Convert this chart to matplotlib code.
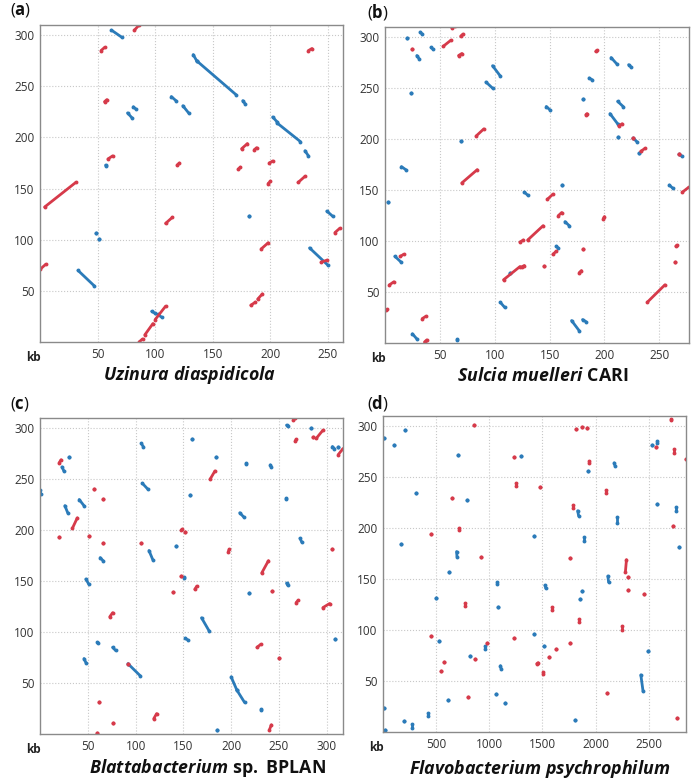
import matplotlib
matplotlib.use("Agg")
import matplotlib.pyplot as plt

plt.rcParams.update({
    "font.family": "Open Sans",
    "font.size": 8.5,
    "mathtext.fontset": "custom",
    "mathtext.rm": "Open Sans",
    "mathtext.bf": "Open Sans:bold",
    "mathtext.it": "Open Sans:italic",
    "mathtext.bfit": "Open Sans:bold:italic",
})

BLUE = "#2b7bb9"
RED = "#d63a4a"

# segments (x0, y0, x1, y1) in kb; single dots have identical ends
a_blue = [(62, 305, 71, 298), (133, 281, 136, 275), (136, 275, 170, 242),
          (176, 236, 178, 233), (114, 240, 118, 236), (124, 231, 129, 224),
          (76, 224, 80, 219), (81, 230, 83, 228), (202, 220, 206, 215),
          (206, 214, 226, 196), (230, 187, 233, 182), (57, 173, 57.5, 172),
          (181.6, 123, 181.6, 123), (249, 128, 254, 123), (49, 107, 49, 107),
          (51, 101, 51, 101), (234, 92, 250, 75), (33, 70, 47, 55),
          (97, 30, 100, 28), (102, 27, 106, 24)]
a_red = [(82, 305, 86, 310), (53, 285, 56, 288), (56, 235, 58, 237),
         (59, 179, 63, 182), (4, 132, 31, 156), (0, 71, 5, 76),
         (109, 116, 115, 122), (119, 173, 121, 175), (172, 169, 174, 171),
         (175, 189, 180, 194), (186, 188, 188, 190), (199, 175, 202, 177),
         (198, 155, 200, 157), (224, 156, 230, 162), (233, 285, 236, 287),
         (256, 107, 260, 111), (192, 91, 198, 97), (183, 36, 187, 39),
         (189, 42, 193, 47), (244, 78, 249, 80), (86, 0, 89, 3),
         (91, 7, 98, 18), (100, 22, 109, 35)]

b_blue = [(20, 299, 20, 299), (32, 305, 34, 303), (29, 282, 31, 279),
          (42, 290, 44, 288), (24, 245, 24, 245), (98, 272, 105, 262),
          (92, 256, 98, 250), (147, 232, 150, 229), (15, 173, 19, 170),
          (3, 138, 3, 138), (9, 85, 15, 79), (69, 198, 69, 198),
          (127, 148, 130, 145), (161, 155, 161, 155), (164, 119, 168, 115),
          (156, 95, 158, 93), (114, 69, 114, 69), (105, 40, 109, 35),
          (25, 9, 29, 4), (66, 4, 66, 3), (170, 22, 177, 12),
          (180, 23, 183, 21), (180, 239, 180, 239), (186, 260, 189, 258),
          (206, 280, 211, 274), (222, 273, 224, 271), (212, 237, 217, 232),
          (205, 225, 212, 215), (212, 202, 212, 202), (226, 201, 230, 197),
          (231, 186, 231, 186), (259, 155, 262, 152), (268, 185, 271, 183)]
b_red = [(61, 309, 64, 311), (53, 291, 60, 297), (69, 301, 71, 303),
         (67, 282, 70, 284), (25, 288, 25, 288), (83, 203, 90, 210),
         (70, 157, 84, 170), (14, 85, 17, 87), (4, 57, 8, 60),
         (1, 32, 2, 33), (34, 24, 37, 26), (36, 1, 38, 3),
         (108, 62, 123, 75), (123, 99, 126, 101), (130, 101, 144, 115),
         (125, 75, 127, 76), (144.5, 76, 144.5, 76), (148, 141, 153, 146),
         (153, 87, 156, 90), (158, 125, 161, 128), (177, 69, 179, 71),
         (180, 92, 180, 92), (199, 122, 200, 124), (192, 286, 193, 287),
         (183, 224, 184, 225), (213, 213, 216, 215), (226, 201, 226, 201),
         (233, 188, 237, 191), (268, 185, 268, 185), (271, 148, 277, 153),
         (265, 95, 266, 96), (264, 79, 264, 79), (239, 40, 255, 57)]

c_blue = [(0, 239, 1, 235), (23, 262, 25, 258), (30, 272, 30, 272),
          (26, 224, 29, 217), (41, 230, 46, 224), (48, 152, 51, 147),
          (63, 173, 66, 170), (46, 74, 48, 70), (60, 90, 61, 89),
          (76, 85, 79, 82), (92, 69, 105, 57), (106, 285, 108, 282),
          (107, 246, 113, 240), (114, 180, 118, 171), (142, 184, 142, 184),
          (151, 154, 151, 153), (152, 94, 155, 92), (157, 234, 157, 234),
          (159, 289, 159, 289), (169, 114, 177, 101), (184, 272, 184, 272),
          (185, 4, 185, 4), (200, 56, 206, 43), (206, 43, 214, 31),
          (215, 266, 215, 265), (219, 138, 219, 138), (209, 217, 213, 213),
          (231, 25, 231, 24), (241, 264, 242, 262), (257, 232, 257, 231),
          (258, 303, 259, 302), (258, 148, 259, 146), (272, 192, 274, 188),
          (284, 300, 284, 300), (306, 282, 308, 280), (312, 282, 312, 282),
          (309, 93, 309, 93)]
c_red = [(20, 266, 22, 269), (20, 193, 20, 193), (34, 202, 39, 212),
         (56, 240, 56, 240), (51, 194, 51, 194), (66, 231, 66, 231),
         (66, 187, 66, 187), (73, 115, 76, 119), (92, 69, 92, 69),
         (62, 31, 62, 31), (76, 11, 76, 11), (60, 1, 60, 1),
         (119, 15, 122, 20), (106, 187, 106, 187), (139, 139, 139, 139),
         (147, 155, 147, 155), (148, 200, 149, 201), (152, 198, 152, 198),
         (162, 142, 164, 145), (178, 250, 183, 258), (197, 179, 198, 181),
         (232, 158, 239, 170), (243, 140, 243, 140), (227, 85, 231, 88),
         (250, 75, 250, 75), (240, 4, 242, 9), (268, 129, 270, 131),
         (267, 287, 268, 289), (265, 308, 267, 310), (289, 290, 296, 298),
         (286, 291, 286, 291), (296, 124, 303, 128), (305, 181, 305, 181),
         (312, 274, 317, 280)]

d_blue = [(14, 288, 14, 288), (108, 282, 108, 282), (211, 296, 211, 296),
          (708, 272, 708, 272), (314, 234, 314, 234), (790, 228, 790, 228),
          (1302, 271, 1302, 271), (1421, 192, 1421, 192), (167, 184, 167, 184),
          (692, 177, 696, 172), (617, 157, 617, 157), (1071, 147, 1071, 145),
          (495, 131, 495, 131), (1077, 123, 1077, 123), (1421, 96, 1421, 96),
          (527, 89, 527, 89), (955, 84, 955, 81), (821, 75, 821, 75),
          (1105, 65, 1111, 62), (8, 24, 8, 24), (608, 31, 608, 31),
          (1064, 37, 1064, 37), (1149, 28, 1149, 28), (424, 19, 424, 16),
          (195, 11, 195, 11), (274, 8, 274, 4), (20, 2, 20, 2),
          (2581, 285, 2581, 284), (2534, 282, 2534, 282), (1930, 256, 1930, 256),
          (2174, 264, 2183, 261), (1831, 217, 1840, 212), (2202, 211, 2202, 205),
          (2575, 224, 2575, 224), (2759, 221, 2759, 217), (1893, 191, 1893, 187),
          (2788, 181, 2788, 181), (2115, 153, 2122, 147), (1524, 144, 1531, 141),
          (1874, 138, 1874, 138), (1855, 130, 1855, 130), (1518, 84, 1518, 84),
          (2488, 79, 2488, 79), (2425, 56, 2446, 40), (1808, 12, 1808, 12)]
d_red = [(852, 301, 852, 301), (1236, 270, 1236, 270), (1249, 244, 1249, 241),
         (1477, 240, 1477, 240), (645, 230, 645, 230), (455, 194, 455, 194),
         (711, 200, 711, 198), (924, 172, 924, 172), (1812, 297, 1812, 297),
         (1868, 299, 1868, 299), (1921, 298, 1921, 298), (2709, 307, 2709, 306),
         (2565, 280, 2565, 280), (2734, 278, 2734, 274), (2850, 268, 2850, 268),
         (1937, 266, 1937, 264), (2096, 237, 2096, 234), (1787, 223, 1787, 220),
         (2731, 202, 2731, 202), (1759, 171, 1759, 171), (2290, 169, 2280, 157),
         (2309, 152, 2309, 152), (2309, 139, 2309, 139), (2459, 135, 2459, 135),
         (1590, 123, 1590, 120), (1840, 111, 1840, 108), (2244, 104, 2244, 100),
         (1756, 87, 1756, 87), (1625, 81, 1625, 81), (1559, 74, 1559, 74),
         (1446, 67, 1459, 68), (1508, 59, 1508, 57), (2109, 38, 2109, 38),
         (2769, 14, 2769, 14), (771, 127, 771, 124), (448, 94, 448, 94),
         (977, 87, 977, 87), (1231, 92, 1231, 92), (870, 72, 870, 72),
         (577, 69, 577, 69), (546, 60, 546, 60), (795, 34, 795, 34)]

y_ticks = [50, 100, 150, 200, 250, 300]
panels = [
    ("a", r"$\mathbfit{Uzinura\ diaspidicola}$", a_blue, a_red, 263,
     [50, 100, 150, 200, 250]),
    ("b", r"$\mathbfit{Sulcia\ muelleri}\ \mathbf{CARI}$", b_blue, b_red, 277,
     [50, 100, 150, 200, 250]),
    ("c", r"$\mathbfit{Blattabacterium}\ \mathbf{sp.\ BPLAN}$", c_blue, c_red, 317,
     [50, 100, 150, 200, 250, 300]),
    ("d", r"$\mathbfit{Flavobacterium\ psychrophilum}$", d_blue, d_red, 2850,
     [500, 1000, 1500, 2000, 2500]),
]

W, H = 692, 782
# axes boxes in pixels: left, top, right, bottom
boxes = [(40, 25, 343, 342), (385, 27, 689, 343),
         (40, 418, 343, 734), (383, 416, 686, 732)]
letter_pos = [(10, 10), (367, 12), (10, 404), (367, 403)]
title_pos = [(190, 375), (543, 376), (208, 768), (540, 769)]

fig = plt.figure(figsize=(W / 100, H / 100), dpi=100)

for (letter, title, blues, reds, xmax, xt), box, lp, tp in zip(
        panels, boxes, letter_pos, title_pos):
    l, t, r, b = box
    ax = fig.add_axes([l / W, 1 - b / H, (r - l) / W, (b - t) / H])
    for segs, col in ((blues, BLUE), (reds, RED)):
        for x0, y0, x1, y1 in segs:
            ax.plot([x0, x1], [y0, y1], "-o", color=col, lw=2.0, ms=2.8,
                    mew=0, solid_capstyle="round", clip_on=True)
    ax.set_xlim(0, xmax)
    ax.set_ylim(0, 310)
    ax.set_xticks(xt)
    ax.set_yticks(y_ticks)
    ax.grid(True, color="#c8c8c8", ls=":", lw=0.8)
    ax.set_axisbelow(True)
    ax.tick_params(length=0, pad=4, labelsize=8.5, colors="#333333")
    for s in ax.spines.values():
        s.set_color("#8a8a8a")
        s.set_linewidth(1.0)
    ax.annotate("kb", xy=(0, 0), xycoords="axes fraction", xytext=(-5, -11),
                textcoords="offset points", ha="center", va="center",
                fontsize=8.5, fontweight="bold", color="#222222")
    fig.text(lp[0] / W, 1 - lp[1] / H, "(" + r"$\mathbf{" + letter + "}$" + ")",
             fontsize=12, ha="left", va="center", color="#111111")
    fig.text(tp[0] / W, 1 - tp[1] / H, title, fontsize=12.8, ha="center",
             va="center", color="#111111")

fig.savefig("out.png", dpi=100)
